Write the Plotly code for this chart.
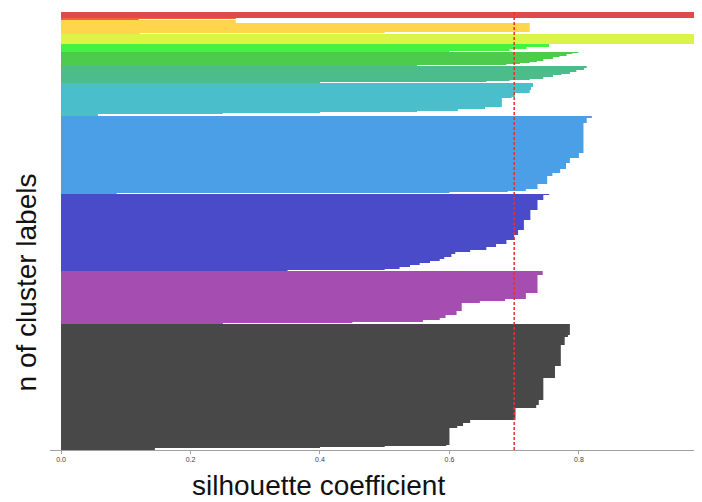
import plotly.graph_objects as go

# ---- data: silhouette values per cluster (top -> bottom rows) and row counts ----
gray_vals = [0.786, 0.783, 0.778, 0.772, 0.763, 0.745, 0.738, 0.734, 0.702, 0.632, 0.621, 0.612, 0.600, 0.595, 0.50, 0.40, 0.145]
gray_counts = [11, 2, 8, 21, 12, 22, 5, 3, 12, 3, 3, 2, 17, 1, 1, 1, 2]

purple_vals = [0.744, 0.736, 0.718, 0.686, 0.647, 0.619, 0.611, 0.594, 0.585, 0.559, 0.45, 0.25]
purple_counts = [4, 18, 6, 2, 2, 8, 4, 3, 2, 2, 1, 1]

indigo_vals = [0.754, 0.745, 0.736, 0.725, 0.715, 0.706, 0.700, 0.688, 0.672, 0.657, 0.632, 0.609, 0.603,
               0.592, 0.585, 0.570, 0.554, 0.539, 0.523, 0.50, 0.35]
indigo_counts = [1, 5, 10, 10, 10, 5, 5, 4, 3, 3, 2, 2, 3, 2, 2, 2, 2, 2, 2, 1, 1]

blue_vals = [0.820, 0.812, 0.807, 0.800, 0.786, 0.780, 0.771, 0.759, 0.751, 0.736, 0.718, 0.69, 0.60, 0.086]
blue_counts = [2, 5, 30, 5, 5, 6, 4, 3, 8, 5, 2, 1, 1, 1]

cyan_vals = [0.729, 0.726, 0.724, 0.701, 0.696, 0.681, 0.655, 0.613, 0.55, 0.40, 0.25, 0.057]
cyan_counts = [4, 3, 3, 4, 1, 9, 2, 2, 1, 1, 1, 2]

teal_vals = [0.812, 0.808, 0.796, 0.786, 0.773, 0.760, 0.745, 0.724, 0.693, 0.657, 0.40]
teal_counts = [2, 2, 2, 2, 1, 2, 2, 1, 1, 1, 1]

green_vals = [0.799, 0.790, 0.781, 0.770, 0.760, 0.745, 0.735, 0.724, 0.709, 0.688, 0.55]
green_counts = [1, 1, 2, 1, 2, 2, 1, 1, 1, 1, 1]

lightgreen_vals = [0.754, 0.719, 0.693, 0.60]
lightgreen_counts = [3, 2, 2, 1]

lime_vals = [0.984]
lime_counts = [10]

yellow_vals = [0.27, 0.724, 0.50, 0.122]
yellow_counts = [3, 9, 1, 1]

orange_vals = [0.27, 0.12]
orange_counts = [1, 1]

red_vals = [1.0]
red_counts = [6]

threshold = 0.70
tick_vals = [0.0, 0.2, 0.4, 0.6, 0.8]
tick_text = ["0.0", "0.2", "0.4", "0.6", "0.8"]

# bottom -> top order
clusters = [
    (gray_vals, gray_counts, "#484848"),
    (purple_vals, purple_counts, "#a64db1"),
    (indigo_vals, indigo_counts, "#4a4bc9"),
    (blue_vals, blue_counts, "#4b9fe6"),
    (cyan_vals, cyan_counts, "#4bbecc"),
    (teal_vals, teal_counts, "#4dbc8b"),
    (green_vals, green_counts, "#4ccb4c"),
    (lightgreen_vals, lightgreen_counts, "#44f244"),
    (lime_vals, lime_counts, "#dbf547"),
    (yellow_vals, yellow_counts, "#ffd54c"),
    (orange_vals, orange_counts, "#f5603f"),
    (red_vals, red_counts, "#e04a4a"),
]

fig = go.Figure()
base = 0
for vals, counts, color in clusters:
    top = base + sum(counts)
    xs, ys = [0], [top]
    y = top
    for v, c in zip(vals, counts):
        xs += [v, v]
        ys += [y, y - c]
        y -= c
    xs.append(0)
    ys.append(y)
    fig.add_trace(go.Scatter(x=xs, y=ys, mode="lines", fill="toself", fillcolor=color,
                             line=dict(width=0, color=color), hoverinfo="skip", showlegend=False))
    base = top

total = base

fig.add_shape(type="line", x0=threshold, x1=threshold, y0=0, y1=total, xref="x", yref="y",
              line=dict(color="#e8302a", width=1.5, dash="3px,2px"), layer="above")

# page body has an 8px default margin, so the figure is sized/offset to compensate
fig.update_layout(
    width=694, height=494,
    margin=dict(l=42, r=2, t=2, b=52, autoexpand=False),
    paper_bgcolor="white", plot_bgcolor="white",
    xaxis=dict(range=[-0.017, 0.987], tickvals=tick_vals, ticktext=tick_text, automargin=False,
               showgrid=False, zeroline=False, showline=True, linecolor="#a0a0a0", linewidth=1,
               ticks="outside", ticklen=3, tickcolor="#a0a0a0",
               tickfont=dict(family="Liberation Sans, Arial", size=7, color="#444")),
    yaxis=dict(range=[0, 440], showgrid=False, zeroline=False, showticklabels=False, showline=False,
               automargin=False),
    annotations=[
        dict(text="silhouette coefficient", xref="paper", yref="paper", x=0.413, y=-0.08,
             xanchor="center", yanchor="middle", showarrow=False,
             font=dict(family="Liberation Sans, Arial", size=28, color="#111")),
        dict(text="n of cluster labels", xref="paper", yref="paper", x=-0.036, y=0.38,
             xanchor="center", yanchor="middle", showarrow=False, textangle=-90,
             font=dict(family="Liberation Sans, Arial", size=28, color="#111")),
    ],
)

fig.write_html("out.html")
